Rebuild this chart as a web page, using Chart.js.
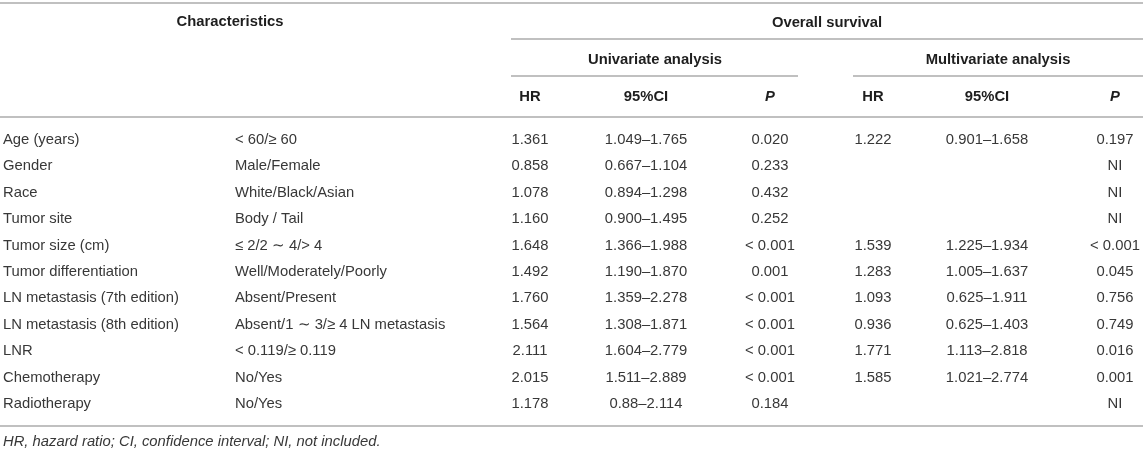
<!DOCTYPE html>
<html>
<head>
<meta charset="utf-8">
<script src="https://cdn.jsdelivr.net/npm/chart.js@4"></script>
<style>
  html, body { margin: 0; padding: 0; background: #ffffff; overflow: hidden; }
  #wrap { width: 1143px; height: 452px; position: relative; }
</style>
</head>
<body>
<div id="wrap"><canvas id="c"></canvas></div>
<script>
// ---- data ----
const characteristics = [
  'Age (years)', 'Gender', 'Race', 'Tumor site', 'Tumor size (cm)',
  'Tumor differentiation', 'LN metastasis (7th edition)', 'LN metastasis (8th edition)',
  'LNR', 'Chemotherapy', 'Radiotherapy'
];
const categories = [
  '< 60/≥ 60', 'Male/Female', 'White/Black/Asian', 'Body / Tail', '≤ 2/2 ∼ 4/> 4',
  'Well/Moderately/Poorly', 'Absent/Present', 'Absent/1 ∼ 3/≥ 4 LN metastasis',
  '< 0.119/≥ 0.119', 'No/Yes', 'No/Yes'
];
const hrUni = [1.361, 0.858, 1.078, 1.160, 1.648, 1.492, 1.760, 1.564, 2.111, 2.015, 1.178];
const ciUni = ['1.049–1.765', '0.667–1.104', '0.894–1.298', '0.900–1.495', '1.366–1.988',
  '1.190–1.870', '1.359–2.278', '1.308–1.871', '1.604–2.779', '1.511–2.889', '0.88–2.114'];
const pUni = ['0.020', '0.233', '0.432', '0.252', '< 0.001', '0.001', '< 0.001', '< 0.001',
  '< 0.001', '< 0.001', '0.184'];
const hrMulti = [1.222, null, null, null, 1.539, 1.283, 1.093, 0.936, 1.771, 1.585, null];
const ciMulti = ['0.901–1.658', '', '', '', '1.225–1.934', '1.005–1.637', '0.625–1.911',
  '0.625–1.403', '1.113–2.818', '1.021–2.774', ''];
const pMulti = ['0.197', 'NI', 'NI', 'NI', '< 0.001', '0.045', '0.756', '0.749', '0.016', '0.001', 'NI'];
const columnHeaders = ['', '', 'HR', '95%CI', 'P', 'HR', '95%CI', 'P'];
const groupTitle = 'Overall survival';
const subGroups = ['Univariate analysis', 'Multivariate analysis'];
const topTitle = 'Characteristics';
const footnote = 'HR, hazard ratio; CI, confidence interval; NI, not included.';

// ---- layout (scale units = canvas pixels) ----
const colX = [3, 235, 530, 646, 770, 873, 987, 1115];
const colAlign = ['left', 'left', 'center', 'center', 'center', 'center', 'center', 'center'];
const rowY0 = 140, rowStep = 26.4;
const FONT = '"Liberation Sans", Arial, Helvetica, sans-serif';
const FS = 14.8;

const columns = [
  characteristics, categories,
  hrUni.map(v => v == null ? '' : v.toFixed(3)), ciUni, pUni,
  hrMulti.map(v => v == null ? '' : v.toFixed(3)), ciMulti, pMulti
];

const datasets = columns.map((col, c) => ({
  label: 'col' + c,
  data: col.map((txt, i) => ({ x: colX[c], y: rowY0 + i * rowStep, t: txt })),
  pointRadius: 0,
  pointHoverRadius: 0,
  showLine: false,
  align: colAlign[c]
}));

const tablePlugin = {
  id: 'tableText',
  afterDatasetsDraw(chart) {
    const ctx = chart.ctx;
    const xs = chart.scales.x, ys = chart.scales.y;
    const X = v => xs.getPixelForValue(v);
    const Y = v => ys.getPixelForValue(v);
    ctx.save();
    // rules
    const hline = (x1, x2, y, w, col) => {
      ctx.beginPath();
      ctx.strokeStyle = col; ctx.lineWidth = w;
      ctx.moveTo(X(x1), Y(y)); ctx.lineTo(X(x2), Y(y)); ctx.stroke();
    };
    const ruleCol = '#ababab';
    hline(0, 1143, 3, 1.6, ruleCol);
    hline(511, 1143, 39, 1.6, ruleCol);
    hline(511, 798, 76, 1.6, ruleCol);
    hline(853, 1143, 76, 1.6, ruleCol);
    hline(0, 1143, 117, 1.6, ruleCol);
    hline(0, 1143, 426, 1.6, ruleCol);

    ctx.textBaseline = 'middle';
    // headers
    ctx.fillStyle = '#1e1e1e';
    ctx.font = 'bold ' + FS + 'px ' + FONT;
    ctx.textAlign = 'center';
    ctx.fillText(topTitle, X(230), Y(22));
    ctx.fillText(groupTitle, X(827), Y(23));
    ctx.fillText(subGroups[0], X(655), Y(60));
    ctx.fillText(subGroups[1], X(998), Y(60));
    columnHeaders.forEach((h, c) => {
      if (!h) return;
      ctx.font = (h === 'P' ? 'italic bold ' : 'bold ') + FS + 'px ' + FONT;
      ctx.fillText(h, X(colX[c]), Y(97));
    });

    // body cells, positioned by the scatter elements
    ctx.fillStyle = '#383838';
    ctx.font = FS + 'px ' + FONT;
    chart.data.datasets.forEach((ds, di) => {
      const meta = chart.getDatasetMeta(di);
      ctx.textAlign = ds.align;
      meta.data.forEach((el, i) => {
        const t = ds.data[i].t;
        if (t) ctx.fillText(t, el.x, el.y);
      });
    });

    // footnote
    ctx.font = 'italic ' + FS + 'px ' + FONT;
    ctx.textAlign = 'left';
    ctx.fillStyle = '#383838';
    ctx.fillText(footnote, X(3), Y(442));
    ctx.restore();
  }
};

new Chart(document.getElementById('c'), {
  type: 'scatter',
  data: { datasets },
  options: {
    responsive: true,
    maintainAspectRatio: false,
    animation: false,
    events: [],
    layout: { padding: 0 },
    plugins: { legend: { display: false }, tooltip: { enabled: false } },
    scales: {
      x: { type: 'linear', min: 0, max: 1143, display: false },
      y: { type: 'linear', min: 0, max: 452, reverse: true, display: false }
    }
  },
  plugins: [tablePlugin]
});
</script>
</body>
</html>
